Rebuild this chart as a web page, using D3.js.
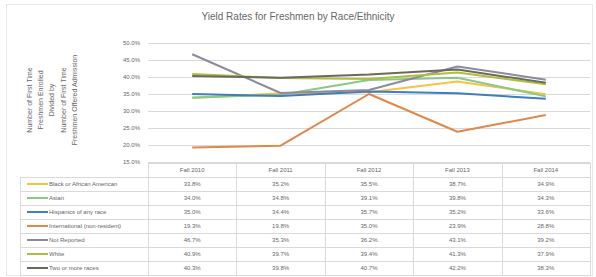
<!DOCTYPE html>
<html><head><meta charset="utf-8">
<script src="https://cdn.jsdelivr.net/npm/d3@7"></script>
<style>body{margin:0;background:#fff}svg{display:block;font-family:"Liberation Sans",Arial,sans-serif}</style>
</head><body><svg id="c" width="596" height="277"></svg>
<script>
const title = "Yield Rates for Freshmen by Race/Ethnicity";
const categories = ["Fall 2010","Fall 2011","Fall 2012","Fall 2013","Fall 2014"];
const seriesNames = ["Black or African American","Asian","Hispanics of any race","International (non-resident)","Not Reported","White","Two or more races"];
const black = [33.8,35.2,35.5,38.7,34.9];
const asian = [34.0,34.8,39.1,39.8,34.3];
const hispanic = [35.0,34.4,35.7,35.2,33.6];
const international = [19.3,19.8,35.0,23.9,28.8];
const notReported = [46.7,35.3,36.2,43.1,39.2];
const white = [40.9,39.7,39.4,41.3,37.9];
const twoOrMore = [40.3,39.8,40.7,42.2,38.3];
const yTicks = [15,20,25,30,35,40,45,50];
const yTitleLines = ["Number of First Time","Freshmen Enrolled","Divided by","Number of First Time","Freshmen Offered Admission"];
const colors = ["#F5C242","#86C98A","#3D7EBE","#E0874A","#8C8A9C","#B0BE3C","#6A6A5C"];

const seriesValues = [black,asian,hispanic,international,notReported,white,twoOrMore];
const series = seriesNames.map((n,i)=>({name:n,values:seriesValues[i],color:colors[i]}));

const svg = d3.select("#c");
const txt = "#666666", grid = "#d9d9d9";
svg.append("rect").attr("x",6.5).attr("y",4.5).attr("width",586).attr("height",271).attr("fill","#fff").attr("stroke","#e6e6e6");

svg.append("text").attr("x",298).attr("y",20).attr("text-anchor","middle").attr("font-size",10).attr("fill",txt).text(title);

const x = d3.scaleBand().domain(categories).range([148,590]);
const y = d3.scaleLinear().domain([15,50]).range([162,43]);
const bw = x.bandwidth();

// gridlines
svg.append("g").selectAll("line").data(yTicks).join("line")
  .attr("x1",148).attr("x2",590).attr("y1",d=>Math.round(y(d))+0.5).attr("y2",d=>Math.round(y(d))+0.5)
  .attr("stroke",grid).attr("stroke-width",1);

// y axis labels
const yAxis = d3.axisLeft(y).tickValues(yTicks).tickFormat(d=>d.toFixed(1)+"%").tickSize(0).tickPadding(8);
const ga = svg.append("g").attr("transform","translate(148,0)").call(yAxis);
ga.select(".domain").remove();
ga.selectAll("text").attr("fill",txt).attr("font-size",6).attr("font-family","Liberation Sans,Arial,sans-serif");

// y title
const yt = svg.append("text").attr("transform","translate(0,100) rotate(-90)").attr("text-anchor","middle").attr("font-size",7).attr("fill",txt);
yTitleLines.forEach((l,i)=>yt.append("tspan").attr("x",0).attr("y",32+i*11.2).text(l));

// lines
const line = d3.line().x((d,i)=>x(categories[i])+bw/2).y(d=>y(d));
svg.append("g").selectAll("path").data(series).join("path")
  .attr("d",d=>line(d.values)).attr("fill","none").attr("stroke",d=>d.color).attr("stroke-width",2).attr("stroke-linejoin","round");

// table
const tTop = 163, hH = 14, rH = 14, tLeft = 20, tRight = 590;
const tg = svg.append("g");
tg.append("line").attr("x1",148).attr("x2",tRight).attr("y1",tTop+0.5).attr("y2",tTop+0.5).attr("stroke",grid);
for(let r=0;r<=series.length;r++){
  const yy = tTop+hH+r*rH+0.5;
  tg.append("line").attr("x1",tLeft).attr("x2",tRight).attr("y1",yy).attr("y2",yy).attr("stroke",grid);
}
const colEdges = categories.map(c=>x(c)).concat([tRight]);
colEdges.forEach(e=>{
  tg.append("line").attr("x1",Math.round(e)+0.5).attr("x2",Math.round(e)+0.5).attr("y1",tTop).attr("y2",tTop+hH+series.length*rH).attr("stroke",grid);
});
tg.append("line").attr("x1",tLeft+0.5).attr("x2",tLeft+0.5).attr("y1",tTop+hH).attr("y2",tTop+hH+series.length*rH).attr("stroke",grid);
tg.selectAll("text.h").data(categories).join("text").attr("class","h")
  .attr("x",d=>x(d)+bw/2).attr("y",tTop+hH/2+2).attr("text-anchor","middle").attr("font-size",6).attr("fill",txt).text(d=>d);
series.forEach((s,r)=>{
  const cy = tTop+hH+r*rH+rH/2;
  tg.append("line").attr("x1",27).attr("x2",48).attr("y1",cy).attr("y2",cy).attr("stroke",s.color).attr("stroke-width",2);
  tg.append("text").attr("x",49).attr("y",cy+2).attr("font-size",6).attr("fill",txt).text(s.name);
  s.values.forEach((v,i)=>{
    tg.append("text").attr("x",x(categories[i])+bw/2).attr("y",cy+2).attr("text-anchor","middle").attr("font-size",6).attr("fill",txt).text(v.toFixed(1)+"%");
  });
});
</script></body></html>
